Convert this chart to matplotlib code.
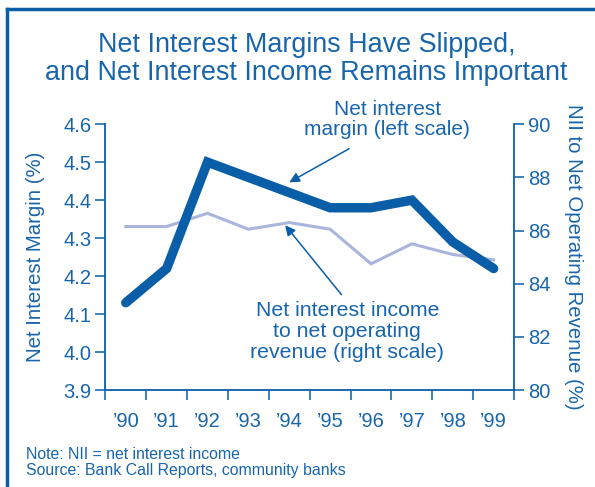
import matplotlib
matplotlib.use("Agg")
import matplotlib.pyplot as plt
from matplotlib.lines import Line2D

plt.rcParams['font.family'] = ['Liberation Sans', 'DejaVu Sans']

years = ["\u201990", "\u201991", "\u201992", "\u201993", "\u201994",
         "\u201995", "\u201996", "\u201997", "\u201998", "\u201999"]
nim = [4.13, 4.22, 4.50, 4.46, 4.42, 4.38, 4.38, 4.40, 4.29, 4.22]
nii_share = [86.15, 86.15, 86.65, 86.05, 86.3, 86.05, 84.75, 85.5, 85.1, 84.9]

left_ticks = [3.9, 4.0, 4.1, 4.2, 4.3, 4.4, 4.5, 4.6]
right_ticks = [80, 82, 84, 86, 88, 90]

BLUE = "#0a5ea8"
LIGHT = "#aab5dc"
TEXT = "#1865ad"

fig = plt.figure(figsize=(5.95, 4.87), dpi=100)
ax = fig.add_axes([0.177, 0.199, 0.687, 0.546])
ax2 = ax.twinx()

x = [i + 0.5 for i in range(len(years))]
ax2.plot(x, nii_share, color=LIGHT, lw=2.2, solid_joinstyle='miter', zorder=2)
ax.plot(x, nim, color=BLUE, lw=6.8, solid_capstyle='round', solid_joinstyle='miter', zorder=3)
ax.set_zorder(ax2.get_zorder() + 1)
ax.patch.set_visible(False)

ax.set_xlim(0, 10)
ax.set_ylim(3.9, 4.6)
ax2.set_ylim(80, 90)

ax.set_yticks(left_ticks)
ax.set_yticklabels([f"{v:.1f}" for v in left_ticks])
ax2.set_yticks(right_ticks)
ax2.set_yticklabels([str(v) for v in right_ticks])

ax.set_xticks(range(0, 11))
ax.set_xticklabels([])
ax.set_xticks(x, minor=True)
ax.set_xticklabels(years, minor=True)
ax.tick_params(axis='x', which='minor', length=0, pad=16, labelsize=14.5, labelcolor=TEXT)
ax.tick_params(axis='x', which='major', length=7, width=1.1, color=BLUE, direction='out')
ax.tick_params(axis='y', length=7, width=1.1, color=BLUE, labelsize=14.5, labelcolor=TEXT, pad=3)
ax2.tick_params(axis='y', length=7, width=1.1, color=BLUE, labelsize=14.5, labelcolor=TEXT, pad=3)

for a in (ax, ax2):
    for s in a.spines.values():
        s.set_visible(False)
ax.spines['left'].set_visible(True)
ax.spines['bottom'].set_visible(True)
ax2.spines['right'].set_visible(True)
for s in (ax.spines['left'], ax.spines['bottom'], ax2.spines['right']):
    s.set_color(BLUE)
    s.set_linewidth(1.3)

ax.set_ylabel("Net Interest Margin (%)", color=TEXT, fontsize=14.7, labelpad=13)
ax2.set_ylabel("NII to Net Operating Revenue (%)", color=TEXT, fontsize=14.7,
               rotation=270, labelpad=10, va='bottom')

fig.text(0.515, 0.907, "Net Interest Margins Have Slipped,", ha='center', va='center',
         color=TEXT, fontsize=19.4)
fig.text(0.515, 0.850, "and Net Interest Income Remains Important", ha='center', va='center',
         color=TEXT, fontsize=19.4)

ax.annotate("Net interest\nmargin (left scale)", xy=(4.5, 4.447), xycoords='data',
            xytext=(6.9, 4.613), textcoords='data', ha='center', va='center',
            color=TEXT, fontsize=15, linespacing=1.08,
            arrowprops=dict(arrowstyle='-|>', color=BLUE, lw=1.1, mutation_scale=15,
                            shrinkA=0, shrinkB=0, relpos=(0.27, -0.25)))
ax2.annotate("Net interest income\nto net operating\nrevenue (right scale)",
             xy=(4.4, 86.2), xycoords='data', xytext=(5.92, 82.2), textcoords='data',
             ha='center', va='center', color=TEXT, fontsize=15.3, linespacing=1.15,
             arrowprops=dict(arrowstyle='-|>', color=BLUE, lw=1.1, mutation_scale=15,
                             shrinkA=0, shrinkB=0, relpos=(0.47, 1.1)))

fig.text(0.044, 0.066, "Note: NII = net interest income", color=TEXT, fontsize=11.4, va='center')
fig.text(0.044, 0.033, "Source: Bank Call Reports, community banks", color=TEXT, fontsize=11.4,
         va='center')

# outer frame along the top and left edges
fig.add_artist(Line2D([0.012, 0.012], [0.0, 0.982], color=BLUE, lw=2.5, transform=fig.transFigure))
fig.add_artist(Line2D([0.012, 1.0], [0.982, 0.982], color=BLUE, lw=2.5, transform=fig.transFigure))

fig.savefig("out.png", dpi=100)
